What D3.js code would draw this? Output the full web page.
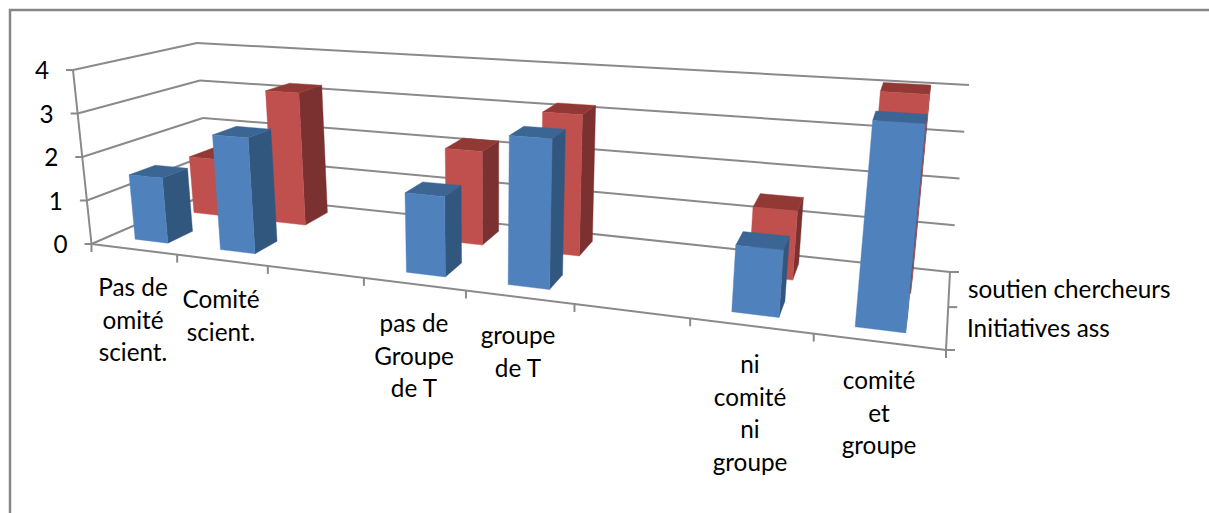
<!DOCTYPE html>
<html><head><meta charset="utf-8">
<script src="https://cdn.jsdelivr.net/npm/d3@7"></script>
<style>html,body{margin:0;padding:0;background:#fff}svg{display:block}text{font-family:Lato,"Open Sans",sans-serif;fill:#000}</style>
</head><body><svg id="c" width="1209" height="513"></svg>
<script>
const categories=[["Pas de","omité","scient."],["Comité","scient."],[],["pas de","Groupe","de T"],["groupe","de T"],[],["ni","comité","ni","groupe"],["comité","et","groupe"]];
const catKeys=["c0","c1","c2","c3","c4","c5","c6","c7"];
const seriesNames=["Initiatives ass","soutien chercheurs"];
const initiativesAss=[1.5,2.6,null,1.7,3.1,null,1.3,3.9];
const soutienChercheurs=[1.4,3.2,null,2.15,3.15,null,1.45,4.05];
const valueTicks=[0,1,2,3,4];

const svg=d3.select("#c");
const FS=24.3;
// chart frame
svg.append("path").attr("d",d3.line()([[10,513],[10,10],[1209,10]])).attr("fill","none").attr("stroke","#868686").attr("stroke-width",2.5);

const tScale=d3.scaleBand().domain(catKeys).range([0,1]).paddingInner(.61).paddingOuter(.31);
const dScale=d3.scaleBand().domain(seriesNames).range([.155,.895]).paddingInner(.563).paddingOuter(0);
const hScale=d3.scaleLinear().domain([0,4]).range([0,1]);
const A=.78;
const warp=t=>A*t/(1-(1-A)*t);
const C={f:{l:{b:[91.5,244],t:[73,70]},r:{b:[946,350],t:[969,128]}},
         k:{l:{b:[209,193],t:[197,43]},r:{b:[950,272],t:[969,85]}}};
const lerp=(a,b,s)=>a+(b-a)*s;
const lerp2=(a,b,s)=>[lerp(a[0],b[0],s),lerp(a[1],b[1],s)];
function proj(t,d,h){
  const u=warp(t);
  const fb=lerp2(C.f.l.b,C.f.r.b,u),ft=lerp2(C.f.l.t,C.f.r.t,u),
        kb=lerp2(C.k.l.b,C.k.r.b,u),kt=lerp2(C.k.l.t,C.k.r.t,u);
  return lerp2(lerp2(fb,kb,d),lerp2(ft,kt,d),h);
}
const line=d3.line();
const grid="#8a8a8a";
function seg(a,b,w=2){svg.append("path").attr("d",line([a,b])).attr("fill","none").attr("stroke",grid).attr("stroke-width",w);}

valueTicks.forEach(v=>{
  const h=hScale(v);
  seg(proj(0,0,h),proj(0,1,h));
  seg(proj(0,1,h),proj(1,1,h));
  const a=proj(0,0,h);
  seg(a,[a[0]-7,a[1]]);
  svg.append("text").attr("x",a[0]-24).attr("y",a[1]+9).attr("text-anchor","end").attr("font-size",FS).text(v);
});
seg(proj(0,0,0),proj(0,0,1));
seg(proj(0,0,0),proj(1,0,0));
seg(proj(1,0,0),proj(1,1,0));
d3.range(catKeys.length+1).forEach(i=>{
  const p=proj(i/catKeys.length,0,0);
  seg(p,[p[0],p[1]+8]);
});
[0,.55,1].forEach(d=>{const p=proj(1,d,0);seg(p,[p[0]+9,p[1]]);});

const palette=[{front:"#4F81BD",side:"#32577F",top:"#3B6593"},{front:"#C0504D",side:"#7B312F",top:"#923835"}];
const seriesVals=[initiativesAss,soutienChercheurs];
const poly=(pts,fill)=>svg.append("path").attr("d",line(pts)+"Z").attr("fill",fill).attr("stroke",fill).attr("stroke-width",.4).attr("stroke-linejoin","round");
[1,0].forEach(si=>{
  const d0=dScale(seriesNames[si]),d1=d0+dScale.bandwidth(),col=palette[si];
  seriesVals[si].forEach((v,ci)=>{
    if(v==null)return;
    const t0=tScale(catKeys[ci]),t1=t0+tScale.bandwidth(),h=hScale(v);
    poly([proj(t1,d0,0),proj(t1,d1,0),proj(t1,d1,h),proj(t1,d0,h)],col.side);
    poly([proj(t0,d0,h),proj(t1,d0,h),proj(t1,d1,h),proj(t0,d1,h)],col.top);
    poly([proj(t0,d0,0),proj(t1,d0,0),proj(t1,d0,h),proj(t0,d0,h)],col.front);
  });
});

const labelX=[133,221,0,414,518,0,750,879], labelY=[296,308,0,332,344,0,373,389];
const labelScaleX=d3.scaleOrdinal().domain(catKeys).range(labelX), labelScaleY=d3.scaleOrdinal().domain(catKeys).range(labelY);
categories.forEach((lines,i)=>{
  lines.forEach((s,j)=>svg.append("text").attr("x",labelScaleX(catKeys[i])).attr("y",labelScaleY(catKeys[i])+j*32.5).attr("text-anchor","middle").attr("font-size",FS).text(s));
});
svg.append("text").attr("x",968).attr("y",298).attr("font-size",FS).text(seriesNames[1]);
svg.append("text").attr("x",967).attr("y",337).attr("font-size",FS).text(seriesNames[0]);
</script></body></html>
